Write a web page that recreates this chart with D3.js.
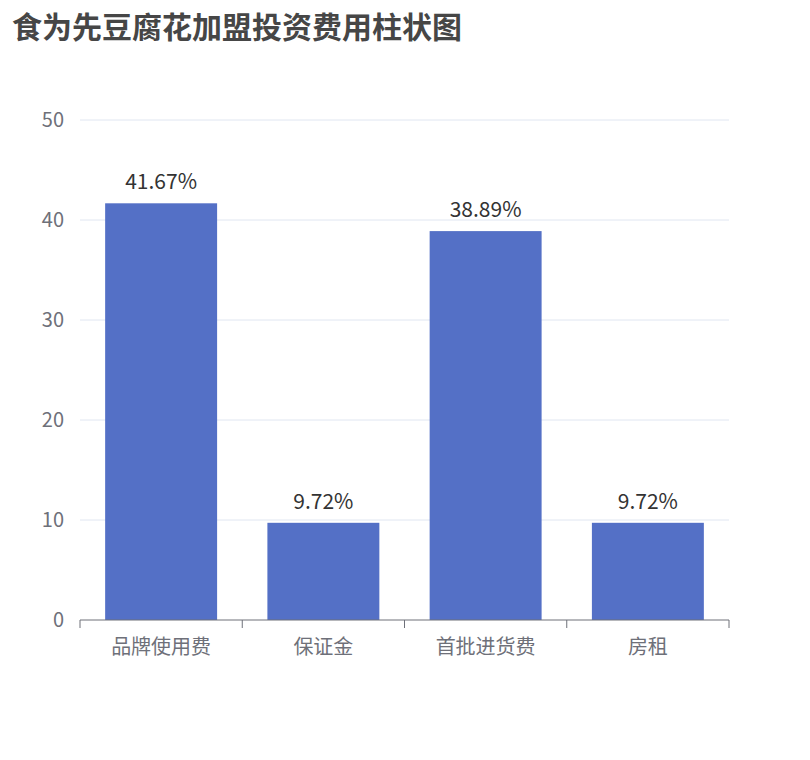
<!DOCTYPE html>
<html><head><meta charset="utf-8">
<script src="https://cdn.jsdelivr.net/npm/d3@7"></script>
<style>body{margin:0;background:#fff;font-family:"Noto Sans CJK SC","Noto Sans",sans-serif}</style>
</head><body><svg id="chart" width="810" height="760"></svg>
<script>
const categories = ['品牌使用费', '保证金', '首批进货费', '房租']
const values = [41.67, 9.72, 38.89, 9.72]
const labels = ['41.67%', '9.72%', '38.89%', '9.72%']
const yTicks = [0, 10, 20, 30, 40, 50]

const margin = { top: 120, right: 81, bottom: 140, left: 80 }
const width = 810 - margin.left - margin.right
const height = 760 - margin.top - margin.bottom

const svg = d3.select('#chart')
svg.append('text').attr('x', 12).attr('y', 38)
  .style('font-size', '30px').style('font-weight', 'bold').style('fill', '#464646')
  .text('食为先豆腐花加盟投资费用柱状图')

const g = svg.append('g').attr('transform', `translate(${margin.left},${margin.top})`)
const x = d3.scaleBand().domain(categories).range([0, width]).paddingInner(0.31).paddingOuter(0.155)
const y = d3.scaleLinear().domain([0, 50]).range([height, 0])

// grid
g.selectAll('.grid').data(yTicks.slice(1)).enter().append('line')
  .attr('x1', 0).attr('x2', width).attr('y1', d => y(d)).attr('y2', d => y(d))
  .style('stroke', '#e0e6f1')

g.selectAll('.ytick').data(yTicks).enter().append('text')
  .attr('x', -16).attr('y', d => y(d)).attr('dy', '0.35em').attr('text-anchor', 'end')
  .style('font-size', '20px').style('fill', '#6e7079').text(d => d)

g.selectAll('.bar').data(values).enter().append('rect')
  .attr('x', (d, i) => x(categories[i])).attr('width', x.bandwidth())
  .attr('y', d => y(d)).attr('height', d => height - y(d))
  .style('fill', '#5470c6')

g.selectAll('.lbl').data(values).enter().append('text')
  .attr('x', (d, i) => x(categories[i]) + x.bandwidth() / 2).attr('y', d => y(d) - 14)
  .attr('text-anchor', 'middle').style('font-size', '21px').style('fill', '#333')
  .text((d, i) => labels[i])

// x axis
const step = width / categories.length
g.append('line').attr('x1', 0).attr('x2', width).attr('y1', height).attr('y2', height)
  .style('stroke', '#6e7079')
g.selectAll('.xt').data(d3.range(categories.length + 1)).enter().append('line')
  .attr('x1', d => d * step).attr('x2', d => d * step).attr('y1', height).attr('y2', height + 8)
  .style('stroke', '#6e7079')
g.selectAll('.xl').data(categories).enter().append('text')
  .attr('x', d => x(d) + x.bandwidth() / 2).attr('y', height + 34)
  .attr('text-anchor', 'middle').style('font-size', '20px').style('fill', '#6e7079').text(d => d)
</script></body></html>
